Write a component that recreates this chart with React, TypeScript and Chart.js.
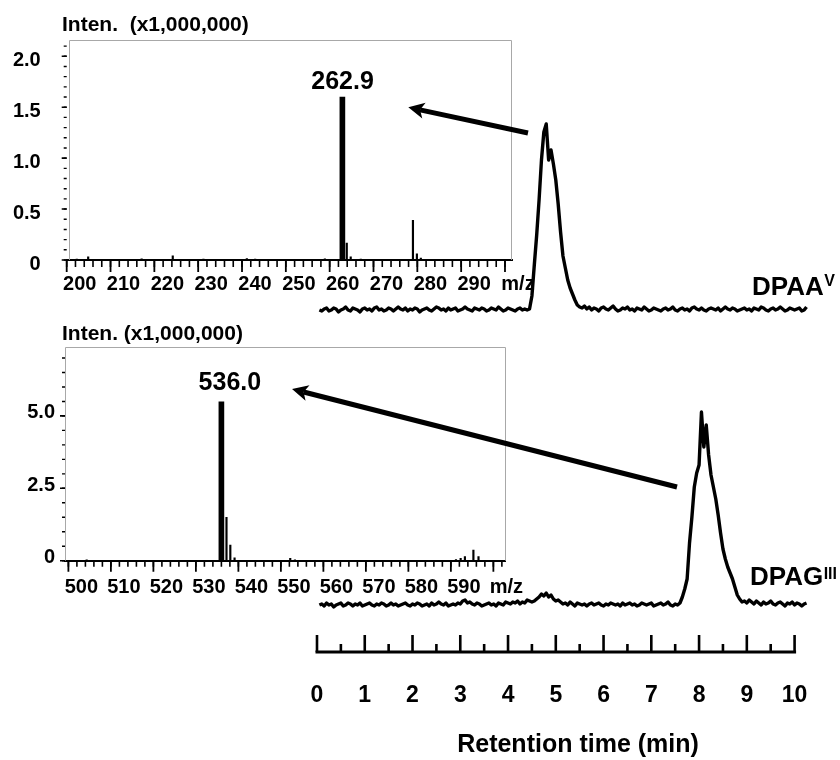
import { useEffect, useRef } from 'react';
import { Chart, registerables } from 'chart.js';

Chart.register(...registerables);

const FONT = "'Liberation Sans', Arial, Helvetica, sans-serif";

// ---------------- Chromatograms (retention time grid, min) ----------------
const rtStart = 0.05;
const rtStep = 0.05;
const rtAxisMin = 0;
const rtAxisMax = 10;

// DPAA(V) trace, arbitrary intensity units (baseline ~0)
const dpaaTrace = [
  0, -1, 1, 2, -1, 0, 2, 1, -2, 0,
  1, 3, 0, -1, 2, 1, 0, -2, 1, 2,
  0, 1, -1, 2, 3, 0, 1, -1, 0, 2,
  1, -1, 1, 3, 1, 0, 2, -1, 1, 0,
  2, 1, -2, 0, 1, 2, 0, -1, 1, 3,
  2, 0, 1, -1, 2, 0, 1, 2, -1, 0,
  1, 3, 1, 0, -1, 2, 1, 0, 2, 1,
  -1, 0, 2, 1, 0, 3, 1, -1, 0, 2,
  1, 0, -1, 1, 2, 0, 1, 0,
  1, 14, 45, 75, 110, 150, 178, 186, 150, 160,
  146, 130, 106, 78, 54, 42, 30, 22, 16, 10,
  5, 3,
  2, 4, 1, 3, 0, 2, 1, -1, 2, 3,
  1, 0, 2, 4, 1, -1, 0, 2, 1, 3,
  0, 1, -1, 2, 1, 0, 3, 1, -1, 0,
  2, 1, 0, -1, 1, 2, 0, 1, 3, 0,
  -1, 1, 2, 0, 1, -1, 2, 3, 1, 0,
  2, 0, -1, 1, 2, 1, 0, 2, -1, 1,
  3, 1, 0, 2, 1, -1, 0, 1, 2, 0,
  1, -1, 2, 1, 0, 3, 2, 0, -1, 1,
  2, 0, 1, 3, 1, -1, 0, 2, 1, 0,
  1, 2, -1, 0, 3,
];

// DPAG(III) trace
const dpagTrace = [
  0, 1, -1, 2, 0, 1, -2, 0, 1, 2,
  -1, 0, 2, 1, -1, 1, 0, 2, -1, 0,
  1, 2, 0, -1, 1, 0, 2, 1, -1, 0,
  2, 0, 1, -1, 0, 1, 2, 0, -1, 1,
  0, 2, 1, -1, 0, 1, -1, 2, 0, 1,
  3, 1, 0, 2, -1, 0, 1, 0, 2, 1,
  4, 5, 2, 3, 1, 0, 2, 1, -1, 0,
  1, 2, 0, 1, -1, 2, 1, 0, 3, 2,
  1, 3, 2, 4, 1, 3, 2, 5, 4, 3,
  4,
  6, 8, 11, 9, 12, 8, 10, 6, 4, 5, 3,
  1, 2, 0, 3, 1, -1, 2, 1, 0, 1,
  -1, 1, 2, 0, 1, 2, 0, -1, 1, 0,
  2, 1, 0, 1, -1, 2, 0, 1, 2, 0,
  1, -1, 0, 2, 1, 0, 1, 2, -1, 0,
  1, 2, 0, 1, 3, 0, -1, 1, 0,
  2, 8, 16, 26, 62, 88, 118, 132, 140, 193,
  158, 180, 150, 130, 118, 106, 90, 72, 56, 46,
  38, 32, 26, 18, 10, 6, 3,
  4, 2, 5, 3, 1, 4, 2, 0, 3, 1,
  2, 4, 1, 0, 2, 3, 1, -1, 2, 1,
  3, 0, 2, 1, -1, 1, 2,
];
const dpaaOffset = 295; // vertical stacking offset of the upper trace

// ---------------- Mass spectra ----------------
const spec1MainMz = [262.9];
const spec1MainInten = [1.6];
const spec1MinorMz = [202.3, 204.9, 217.1, 224.2, 231.2, 241.1, 243.0, 258.9, 263.9, 264.8, 267.1, 279.0, 279.9, 280.8];
const spec1MinorInten = [0.01, 0.03, 0.012, 0.04, 0.01, 0.015, 0.01, 0.012, 0.165, 0.03, 0.01, 0.39, 0.06, 0.02];

const spec2MainMz = [536.0];
const spec2MainInten = [5.49];
const spec2MinorMz = [504.3, 537.2, 538.1, 539.1, 552.2, 553.3, 591.2, 592.3, 593.3, 595.3, 596.5];
const spec2MinorInten = [0.03, 1.5, 0.54, 0.1, 0.08, 0.03, 0.04, 0.08, 0.14, 0.37, 0.14];

type Mark = { axis: 'x' | 'y'; from: number; to: number; step: number; len: number; dir: number; width: number };
type Txt = {
  text: string; sup?: string; mode: 'data' | 'area'; x: number; y: number;
  size: number; supSize?: number; supRise?: number; align: CanvasTextAlign;
};
type Arrow = { x1: number; y1: number; x2: number; y2: number };
type Decor = {
  box?: { color: string; leftInset: number };
  axisLine?: { from: number; to: number; width: number };
  marks?: Mark[];
  texts?: Txt[];
  arrows?: Arrow[];
};

function makeDecor(cfg: Decor) {
  return {
    id: 'decor',
    afterDraw(chart: any) {
      const { ctx, chartArea: a, scales } = chart;
      const xs = scales.x;
      const ys = scales.y;
      ctx.save();
      if (cfg.box) {
        ctx.strokeStyle = cfg.box.color;
        ctx.lineWidth = 1;
        const l = Math.round(a.left + cfg.box.leftInset) + 0.5;
        const t = Math.round(a.top) + 0.5;
        const r = Math.round(a.right) - 0.5;
        ctx.beginPath();
        ctx.moveTo(l, a.bottom);
        ctx.lineTo(l, t);
        ctx.lineTo(r, t);
        ctx.lineTo(r, a.bottom);
        ctx.stroke();
      }
      if (cfg.axisLine) {
        ctx.strokeStyle = '#000';
        ctx.lineWidth = cfg.axisLine.width;
        ctx.lineCap = 'square';
        ctx.beginPath();
        ctx.moveTo(xs.getPixelForValue(cfg.axisLine.from), a.bottom);
        ctx.lineTo(xs.getPixelForValue(cfg.axisLine.to), a.bottom);
        ctx.stroke();
      }
      ctx.lineCap = 'butt';
      for (const m of cfg.marks ?? []) {
        const sc = scales[m.axis];
        ctx.strokeStyle = '#000';
        ctx.lineWidth = m.width;
        const n = Math.round((m.to - m.from) / m.step);
        ctx.beginPath();
        for (let i = 0; i <= n; i++) {
          const v = m.from + i * m.step;
          const p = sc.getPixelForValue(v);
          if (m.axis === 'x') {
            ctx.moveTo(p, a.bottom);
            ctx.lineTo(p, a.bottom + m.dir * m.len);
          } else {
            ctx.moveTo(a.left, p);
            ctx.lineTo(a.left - m.len, p);
          }
        }
        ctx.stroke();
      }
      for (const t of cfg.texts ?? []) {
        let x: number;
        let y: number;
        if (t.mode === 'data') {
          x = xs.getPixelForValue(t.x);
          y = ys.getPixelForValue(t.y);
        } else {
          x = a.left + t.x;
          y = a.top + t.y;
        }
        ctx.fillStyle = '#000';
        ctx.textBaseline = 'alphabetic';
        ctx.textAlign = t.align;
        ctx.font = `bold ${t.size}px ${FONT}`;
        ctx.fillText(t.text, x, y);
        if (t.sup) {
          const w = ctx.measureText(t.text).width;
          const sx = t.align === 'left' ? x + w : t.align === 'center' ? x + w / 2 : x;
          ctx.textAlign = 'left';
          ctx.font = `bold ${t.supSize}px ${FONT}`;
          ctx.fillText(t.sup, sx + 0.5, y - (t.supRise ?? 8));
        }
      }
      for (const ar of cfg.arrows ?? []) {
        const x1 = xs.getPixelForValue(ar.x1);
        const y1 = ys.getPixelForValue(ar.y1);
        const x2 = xs.getPixelForValue(ar.x2);
        const y2 = ys.getPixelForValue(ar.y2);
        const ang = Math.atan2(y2 - y1, x2 - x1);
        const c = Math.cos(ang);
        const s = Math.sin(ang);
        const hl = 16;
        const hw = 8;
        const bx = x2 - hl * c;
        const by = y2 - hl * s;
        ctx.strokeStyle = '#000';
        ctx.fillStyle = '#000';
        ctx.lineWidth = 5;
        ctx.beginPath();
        ctx.moveTo(x1, y1);
        ctx.lineTo(bx + 4 * c, by + 4 * s);
        ctx.stroke();
        ctx.beginPath();
        ctx.moveTo(x2, y2);
        ctx.lineTo(bx + hw * s, by - hw * c);
        ctx.lineTo(bx + 4 * c, by + 4 * s);
        ctx.lineTo(bx - hw * s, by + hw * c);
        ctx.closePath();
        ctx.fill();
      }
      ctx.restore();
    },
  };
}

const tickFont = (size: number) => ({ size, weight: 'bold' as const, family: FONT });

type SpecParams = {
  mainMz: number[]; mainInten: number[]; minorMz: number[]; minorInten: number[];
  xMin: number; xMax: number; xEnd: number; yMax: number; yStep: number; yMinorStep: number; yMinorTo: number; yMajorTo: number;
  yAxisWidth: number; padTop: number; padRight: number; xAxisHeight: number;
  yLabelPad: number; yLabelOffset: number; xLabelPad: number; boxInset: number;
  title: string; titleDx: number; titleDy: number;
  peakLabel: string; peakLabelX: number; peakLabelY: number;
  xMajorLen: number; xMinorLen: number; xMinorTo: number;
};

function spectrumConfig(p: SpecParams): any {
  return {
    type: 'bar',
    data: {
      datasets: [
        {
          data: p.mainMz.map((m, i) => ({ x: m, y: p.mainInten[i] })),
          backgroundColor: '#000',
          borderWidth: 0,
          barThickness: 5,
          grouped: false,
        },
        {
          data: p.minorMz.map((m, i) => ({ x: m, y: p.minorInten[i] })),
          backgroundColor: '#000',
          borderWidth: 0,
          barThickness: 1.5,
          grouped: false,
        },
      ],
    },
    options: {
      animation: false,
      responsive: false,
      events: [],
      layout: { padding: { top: p.padTop, right: p.padRight, left: 0, bottom: 0 } },
      plugins: { legend: { display: false }, tooltip: { enabled: false } },
      scales: {
        x: {
          type: 'linear',
          offset: false,
          min: p.xMin,
          max: p.xMax,
          grid: { display: false, drawTicks: false, offset: false },
          border: { display: true, color: '#000', width: 2 },
          ticks: {
            stepSize: 10,
            includeBounds: false,
            autoSkip: false,
            maxRotation: 0,
            minRotation: 0,
            labelOffset: 13,
            padding: p.xLabelPad,
            color: '#000',
            font: tickFont(20),
            callback: (v: any) => (Math.round(Number(v)) === p.xEnd ? 'm/z' : String(Math.round(Number(v)))),
          },
          afterFit: (s: any) => {
            s.height = p.xAxisHeight;
          },
        },
        y: {
          type: 'linear',
          min: 0,
          max: p.yMax,
          grid: { display: false, drawTicks: false },
          border: { display: false },
          ticks: {
            stepSize: p.yStep,
            includeBounds: false,
            autoSkip: false,
            padding: p.yLabelPad,
            labelOffset: p.yLabelOffset,
            color: '#000',
            font: tickFont(20),
            callback: (v: any) => (Number(v) === 0 ? '0' : Number(v).toFixed(1)),
          },
          afterFit: (s: any) => {
            s.width = p.yAxisWidth;
          },
        },
      },
    },
    plugins: [
      makeDecor({
        box: { color: '#a8a8a8', leftInset: p.boxInset },
        marks: [
          { axis: 'x', from: Math.ceil(p.xMin / 2) * 2, to: p.xMinorTo, step: 2, len: p.xMinorLen, dir: 1, width: 1.6 },
          { axis: 'x', from: Math.ceil(p.xMin / 10) * 10, to: p.xEnd, step: 10, len: p.xMajorLen, dir: 1, width: 1.8 },
          { axis: 'y', from: 0, to: p.yMinorTo, step: p.yMinorStep, len: 3, dir: 1, width: 1.4 },
          { axis: 'y', from: 0, to: p.yMajorTo, step: p.yStep, len: 5, dir: 1, width: 1.6 },
        ],
        texts: [
          { text: p.title, mode: 'area', x: p.titleDx, y: p.titleDy, size: 21, align: 'left' },
          { text: p.peakLabel, mode: 'data', x: p.peakLabelX, y: p.peakLabelY, size: 25, align: 'center' },
        ],
      }),
    ],
  };
}

function chromConfig(): any {
  const dpaaPts = dpaaTrace.map((v, i) => ({ x: rtStart + i * rtStep, y: v + dpaaOffset }));
  const dpagPts = dpagTrace.map((v, i) => ({ x: rtStart + i * rtStep, y: v }));
  const line = {
    borderColor: '#000',
    borderWidth: 3.4,
    pointRadius: 0,
    tension: 0,
    fill: false,
    borderJoinStyle: 'round',
  };
  return {
    type: 'line',
    data: {
      datasets: [
        { ...line, data: dpaaPts },
        { ...line, data: dpagPts },
      ],
    },
    options: {
      animation: false,
      responsive: false,
      events: [],
      layout: { padding: { top: 100, left: 317, right: 1, bottom: 0 } },
      plugins: { legend: { display: false }, tooltip: { enabled: false } },
      scales: {
        x: {
          type: 'linear',
          min: rtAxisMin,
          max: 10.93,
          grid: { display: false, drawTicks: false },
          border: { display: false },
          ticks: {
            stepSize: 1,
            includeBounds: false,
            autoSkip: false,
            maxRotation: 0,
            padding: 30,
            color: '#000',
            font: tickFont(23),
          },
          title: {
            display: true,
            text: 'Retention time (min)',
            color: '#000',
            font: tickFont(25),
            padding: { top: 0, bottom: 0 },
          },
          afterFit: (s: any) => {
            s.height = 108;
          },
        },
        y: { type: 'linear', display: false, min: -47, max: 505 },
      },
    },
    plugins: [
      makeDecor({
        axisLine: { from: rtAxisMin, to: rtAxisMax, width: 3 },
        marks: [
          { axis: 'x', from: 0.5, to: 9.5, step: 1, len: 8, dir: -1, width: 2.6 },
          { axis: 'x', from: rtAxisMin, to: rtAxisMax, step: 1, len: 17, dir: -1, width: 2.6 },
        ],
        texts: [
          { text: 'DPAA', sup: 'V', mode: 'data', x: 9.108, y: 310, size: 26, supSize: 16, supRise: 9.5, align: 'left' },
          { text: 'DPAG', sup: 'III', mode: 'data', x: 9.066, y: 20, size: 26, supSize: 16, supRise: 6.5, align: 'left' },
        ],
        arrows: [
          { x1: 4.418, y1: 472, x2: 1.912, y2: 497.7 },
          { x1: 7.538, y1: 118, x2: -0.523, y2: 216 },
        ],
      }),
    ],
  };
}

export default function App() {
  const c1 = useRef<HTMLCanvasElement>(null);
  const c2 = useRef<HTMLCanvasElement>(null);
  const c3 = useRef<HTMLCanvasElement>(null);

  useEffect(() => {
    const charts: Chart[] = [];
    charts.push(
      new Chart(
        c1.current!,
        spectrumConfig({
          mainMz: spec1MainMz, mainInten: spec1MainInten, minorMz: spec1MinorMz, minorInten: spec1MinorInten,
          xMin: 200, xMax: 301.6, xEnd: 300, yMax: 2.16, yStep: 0.5, yMinorStep: 0.1, yMinorTo: 2.1, yMajorTo: 2.0,
          yAxisWidth: 66.7, padTop: 40, padRight: 28, xAxisHeight: 40,
          yLabelPad: 26, yLabelOffset: 4, xLabelPad: 12, boxInset: 2.3,
          title: 'Inten.  (x1,000,000)', titleDx: -4.7, titleDy: -9.3,
          peakLabel: '262.9', peakLabelX: 262.93, peakLabelY: 1.681,
          xMajorLen: 12, xMinorLen: 7, xMinorTo: 300,
        })
      )
    );
    charts.push(
      new Chart(
        c2.current!,
        spectrumConfig({
          mainMz: spec2MainMz, mainInten: spec2MainInten, minorMz: spec2MinorMz, minorInten: spec2MinorInten,
          xMin: 499.2, xMax: 602.9, xEnd: 600, yMax: 7.37, yStep: 2.5, yMinorStep: 0.5, yMinorTo: 7.0, yMajorTo: 5.0,
          yAxisWidth: 65, padTop: 47.3, padRight: 34.3, xAxisHeight: 39.3,
          yLabelPad: 10, yLabelOffset: -3, xLabelPad: 15, boxInset: 0,
          title: 'Inten. (x1,000,000)', titleDx: -3, titleDy: -7.3,
          peakLabel: '536.0', peakLabelX: 538.0, peakLabelY: 5.894,
          xMajorLen: 11, xMinorLen: 6, xMinorTo: 602,
        })
      )
    );
    charts.push(new Chart(c3.current!, chromConfig()));
    return () => charts.forEach((c) => c.destroy());
  }, []);

  return (
    <div style={{ position: 'absolute', left: 0, top: 0, width: 840, height: 760, background: '#fff', overflow: 'hidden' }}>
      <canvas ref={c1} width={540} height={300} style={{ position: 'absolute', left: 0, top: 0 }} />
      <canvas ref={c2} width={540} height={300} style={{ position: 'absolute', left: 0, top: 300 }} />
      <canvas ref={c3} width={840} height={760} style={{ position: 'absolute', left: 0, top: 0 }} />
    </div>
  );
}
